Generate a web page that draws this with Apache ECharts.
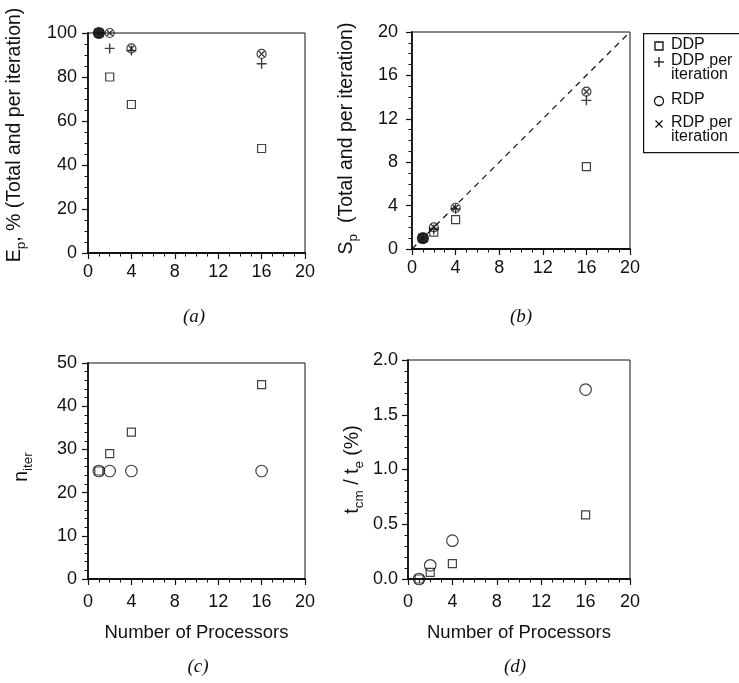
<!DOCTYPE html>
<html>
<head>
<meta charset="utf-8">
<script src="https://cdn.jsdelivr.net/npm/echarts@6/dist/echarts.min.js"></script>
<style>
  html, body { margin: 0; padding: 0; background: #fff; }
  #chart { width: 739px; height: 683px; }
</style>
</head>
<body>
<div id="chart"></div>
<script>
// Number of processors used in each run
const processors = [1, 2, 4, 16];

// (a) parallel efficiency, %
const effDDP = [100, 80, 67.5, 47.5];
const effDDPIter = [100, 93, 92, 86];
const effRDP = [100, 100, 93, 90.5];
const effRDPIter = [100, 100, 93, 90.5];

// (b) speed-up
const spdDDP = [1, 1.55, 2.7, 7.6];
const spdDDPIter = [1, 1.8, 3.7, 13.7];
const spdRDP = [1, 2.0, 3.8, 14.5];
const spdRDPIter = [1, 2.0, 3.8, 14.5];
const idealSpeedup = [[0, 0], [20, 20]];

// (c) number of iterations
const iterDDP = [25, 29, 34, 45];
const iterRDP = [25, 25, 25, 25];

// (d) communication / execution time ratio, %
const commDDP = [0, 0.06, 0.14, 0.585];
const commRDP = [0, 0.125, 0.35, 1.73];

const INK = '#111';
const SANS = '"Liberation Sans", Arial, Helvetica, sans-serif';
const SERIF = '"Liberation Serif", "Times New Roman", serif';

const pairs = vals => processors.map((p, i) => [p, vals[i]]);

const SYMBOLS = {
  square: 'rect',
  plus: 'path://M0,5L10,5M5,0L5,10',
  circle: 'circle',
  cross: 'path://M0,0L10,10M10,0L0,10'
};

// Scatter series; with fillFirst the single-processor point is drawn as a solid dot
function marks(name, grid, vals, kind, size, fillFirst) {
  return {
    name: name,
    type: 'scatter',
    xAxisIndex: grid,
    yAxisIndex: grid,
    data: pairs(vals),
    symbol: SYMBOLS[kind],
    symbolSize: fillFirst ? ((v, p) => (p.dataIndex === 0 ? 11 : size)) : size,
    clip: false,
    silent: true,
    itemStyle: {
      color: fillFirst ? (p => (p.dataIndex === 0 ? INK : 'rgba(0,0,0,0)')) : 'rgba(0,0,0,0)',
      borderColor: INK,
      borderWidth: kind === 'plus' || kind === 'cross' ? 1.4 : 1.2
    },
    z: fillFirst ? 3 : 2
  };
}

const grids = [
  { left: 88, top: 33, width: 217, height: 220 },
  { left: 412, top: 32, width: 218, height: 217 },
  { left: 88, top: 363, width: 217, height: 216 },
  { left: 408, top: 360, width: 222, height: 219 }
];

function richName(size) {
  return {
    m: { fontSize: size, lineHeight: 26, verticalAlign: 'middle', color: INK, fontFamily: SANS },
    s: { fontSize: 13.5, lineHeight: 13, verticalAlign: 'bottom', color: INK, fontFamily: SANS }
  };
}

function xAxis(i, withName, labelMargin) {
  return {
    type: 'value', gridIndex: i, min: 0, max: 20, interval: 4,
    name: withName ? 'Number of Processors' : '',
    nameLocation: 'middle', nameGap: 44,
    nameTextStyle: { fontSize: 18.5, color: INK, fontFamily: SANS },
    axisLine: { show: true, onZero: false, lineStyle: { color: INK, width: 1.8 } },
    axisTick: { show: true, length: 6, lineStyle: { color: INK, width: 1.2 } },
    minorTick: { show: true, splitNumber: 4, length: 3.5, lineStyle: { color: INK, width: 1 } },
    axisLabel: { fontSize: 18, color: INK, fontFamily: SANS, margin: labelMargin },
    splitLine: { show: false }
  };
}

function yAxis(i, max, interval, minorSplit, name, gap, shiftUp, labelMargin, fmt) {
  return {
    type: 'value', gridIndex: i, min: 0, max: max, interval: interval,
    name: name, nameLocation: 'middle', nameGap: gap,
    nameTextStyle: { rich: richName(19.5), padding: [0, 0, 0, shiftUp * 2] },
    axisLine: { show: true, onZero: false, lineStyle: { color: INK, width: 1.8 } },
    axisTick: { show: true, length: 6, lineStyle: { color: INK, width: 1.2 } },
    minorTick: { show: true, splitNumber: minorSplit, length: 3.5, lineStyle: { color: INK, width: 1 } },
    axisLabel: { fontSize: 18, color: INK, fontFamily: SANS, margin: labelMargin, formatter: fmt },
    splitLine: { show: false }
  };
}

const series = [
  // (a)
  marks('DDP', 0, effDDP, 'square', 8),
  marks('DDP per iteration', 0, effDDPIter, 'plus', 10),
  marks('RDP per iteration', 0, effRDPIter, 'cross', 6),
  marks('RDP', 0, effRDP, 'circle', 9, true),
  // (b)
  {
    name: 'ideal', type: 'line', xAxisIndex: 1, yAxisIndex: 1, data: idealSpeedup,
    showSymbol: false, silent: true,
    lineStyle: { color: INK, width: 1.2, type: [6, 5] }, z: 1
  },
  marks('DDP', 1, spdDDP, 'square', 8),
  marks('DDP per iteration', 1, spdDDPIter, 'plus', 10),
  marks('RDP per iteration', 1, spdRDPIter, 'cross', 6),
  marks('RDP', 1, spdRDP, 'circle', 9, true),
  // (c)
  marks('DDP', 2, iterDDP, 'square', 8),
  marks('RDP', 2, iterRDP, 'circle', 11.5),
  // (d)
  marks('DDP', 3, commDDP, 'square', 8),
  marks('RDP', 3, commRDP, 'circle', 11.5)
];

// Legend drawn by hand so the box can run past the right edge
const legendX = 643, legendTop = 33;
const legendRows = [
  { kind: 'square', label: 'DDP', y: 46 },
  { kind: 'plus', label: 'DDP per\niteration', y: 62 },
  { kind: 'circle', label: 'RDP', y: 101 },
  { kind: 'cross', label: 'RDP per\niteration', y: 124 }
];

const legendGraphics = [{
  type: 'rect', left: legendX, top: legendTop, silent: true,
  shape: { width: 130, height: 119 },
  style: { fill: '#fff', stroke: INK, lineWidth: 1.2 }
}];
legendRows.forEach(r => {
  const cx = 659, cy = r.y;
  let shape;
  if (r.kind === 'square') {
    shape = { type: 'rect', shape: { x: cx - 4, y: cy - 4, width: 8, height: 8 },
      style: { fill: 'none', stroke: INK, lineWidth: 1.3 } };
  } else if (r.kind === 'circle') {
    shape = { type: 'circle', shape: { cx: cx, cy: cy, r: 4.5 },
      style: { fill: 'none', stroke: INK, lineWidth: 1.3 } };
  } else if (r.kind === 'plus') {
    shape = { type: 'polyline', shape: { points: [[cx - 5, cy], [cx + 5, cy]] },
      style: { stroke: INK, lineWidth: 1.3 } };
    legendGraphics.push({ type: 'polyline', silent: true, shape: { points: [[cx, cy - 5], [cx, cy + 5]] },
      style: { stroke: INK, lineWidth: 1.3 } });
  } else {
    shape = { type: 'polyline', shape: { points: [[cx - 3.5, cy - 3.5], [cx + 3.5, cy + 3.5]] },
      style: { stroke: INK, lineWidth: 1.3 } };
    legendGraphics.push({ type: 'polyline', silent: true, shape: { points: [[cx - 3.5, cy + 3.5], [cx + 3.5, cy - 3.5]] },
      style: { stroke: INK, lineWidth: 1.3 } });
  }
  shape.silent = true;
  legendGraphics.push(shape);
  legendGraphics.push({
    type: 'text', silent: true, x: 671, y: cy - 8,
    style: { text: r.label, font: '16px ' + SANS, fill: INK, lineHeight: 14, textVerticalAlign: 'top' }
  });
});

const panelLabels = [
  { text: '(a)', x: 194, y: 317 },
  { text: '(b)', x: 521, y: 317 },
  { text: '(c)', x: 198, y: 667 },
  { text: '(d)', x: 515, y: 667 }
].map(p => ({
  type: 'text', silent: true, x: p.x, y: p.y,
  style: { text: p.text, font: 'italic 19px ' + SERIF, fill: INK, textAlign: 'center', textVerticalAlign: 'middle' }
}));

const chart = echarts.init(document.getElementById('chart'), null, { renderer: 'canvas' });
chart.setOption({
  animation: false,
  backgroundColor: '#fff',
  grid: grids.map(g => Object.assign({ show: true, borderColor: INK, borderWidth: 1, backgroundColor: 'transparent' }, g)),
  xAxis: [xAxis(0, false, 10), xAxis(1, false, 10), xAxis(2, true, 14), xAxis(3, true, 14)],
  yAxis: [
    yAxis(0, 100, 20, 4, '{m|E}{s|p}{m|, % (Total and per iteration)}', 60, 8, 11),
    yAxis(1, 20, 4, 4, '{m|S}{s|p}{m|  (Total and per iteration)}', 52, 2, 14),
    yAxis(2, 50, 10, 5, '{m|n}{s|iter}', 53, 4, 11),
    yAxis(3, 2, 0.5, 5, '{m|t}{s|cm}{m| / t}{s|e}{m| (%)}', 42, 0, 10, v => v.toFixed(1))
  ],
  series: series,
  graphic: legendGraphics.concat(panelLabels)
});
</script>
</body>
</html>
